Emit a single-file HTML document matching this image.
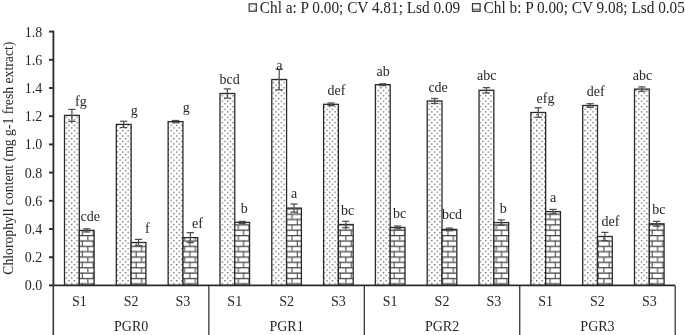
<!DOCTYPE html>
<html><head><meta charset="utf-8"><style>
html,body{margin:0;padding:0;background:#fff;width:685px;height:335px;overflow:hidden}
svg{display:block;will-change:transform}
text{font-family:"Liberation Serif",serif;font-size:14px;fill:#262626}
</style></head><body>
<svg width="685" height="335" viewBox="0 0 685 335">
<defs>
<pattern id="dots" patternUnits="userSpaceOnUse" width="5.375" height="5.36" x="3.9" y="1.37">
<rect x="0" y="0" width="1.3" height="1.3" fill="#606060"/>
<rect x="2.69" y="2.68" width="1.3" height="1.3" fill="#606060"/>
</pattern>
<pattern id="brick" patternUnits="userSpaceOnUse" width="10.75" height="10.72" x="0" y="-0.85">
<rect x="0" y="0" width="10.75" height="10.72" fill="#fff"/>
<rect x="0" y="0" width="10.75" height="1.25" fill="#444"/>
<rect x="0" y="5.36" width="10.75" height="1.25" fill="#444"/>
<rect x="1.2" y="0" width="1.2" height="5.36" fill="#5a5a5a"/>
<rect x="6.57" y="5.36" width="1.2" height="5.36" fill="#5a5a5a"/>
</pattern>
</defs>

<rect x="249.2" y="3.9" width="7.1" height="7.3" fill="#fff" stroke="#333" stroke-width="1.2"/>
<rect x="251.0" y="5.9" width="1.1" height="1.1" fill="#888"/><rect x="254.1" y="9.1" width="1.1" height="1.1" fill="#555"/>
<text transform="translate(259.8,12.6) scale(0.956,1)" style="font-size:16px">Chl a: P 0.00; CV 4.81; Lsd 0.09</text>
<rect x="472.5" y="3.7" width="7.6" height="7.6" fill="#fff" stroke="#333" stroke-width="1.2"/>
<rect x="472.5" y="8.7" width="7.6" height="1.1" fill="#555"/><rect x="474.8" y="9.2" width="1" height="2" fill="#888"/>
<text transform="translate(483.6,12.6) scale(0.956,1)" style="font-size:16px">Chl b: P 0.00; CV 9.08; Lsd 0.05</text>
<text transform="translate(12.5,158.2) rotate(-90) scale(0.951,1)" text-anchor="middle" style="font-size:14.4px">Chlorophyll content (mg g-1 fresh extract)</text>
<text x="42.3" y="290.30" text-anchor="end">0.0</text>
<line x1="49" y1="285.40" x2="53.4" y2="285.40" stroke="#2a2a2a" stroke-width="1.9"/>
<text x="42.3" y="262.10" text-anchor="end">0.2</text>
<line x1="49" y1="257.20" x2="53.4" y2="257.20" stroke="#2a2a2a" stroke-width="1.9"/>
<text x="42.3" y="233.90" text-anchor="end">0.4</text>
<line x1="49" y1="229.00" x2="53.4" y2="229.00" stroke="#2a2a2a" stroke-width="1.9"/>
<text x="42.3" y="205.70" text-anchor="end">0.6</text>
<line x1="49" y1="200.80" x2="53.4" y2="200.80" stroke="#2a2a2a" stroke-width="1.9"/>
<text x="42.3" y="177.50" text-anchor="end">0.8</text>
<line x1="49" y1="172.60" x2="53.4" y2="172.60" stroke="#2a2a2a" stroke-width="1.9"/>
<text x="42.3" y="149.30" text-anchor="end">1.0</text>
<line x1="49" y1="144.40" x2="53.4" y2="144.40" stroke="#2a2a2a" stroke-width="1.9"/>
<text x="42.3" y="121.10" text-anchor="end">1.2</text>
<line x1="49" y1="116.20" x2="53.4" y2="116.20" stroke="#2a2a2a" stroke-width="1.9"/>
<text x="42.3" y="92.90" text-anchor="end">1.4</text>
<line x1="49" y1="88.00" x2="53.4" y2="88.00" stroke="#2a2a2a" stroke-width="1.9"/>
<text x="42.3" y="64.70" text-anchor="end">1.6</text>
<line x1="49" y1="59.80" x2="53.4" y2="59.80" stroke="#2a2a2a" stroke-width="1.9"/>
<text x="42.3" y="36.50" text-anchor="end">1.8</text>
<line x1="49" y1="31.60" x2="53.4" y2="31.60" stroke="#2a2a2a" stroke-width="1.9"/>
<rect x="64.51" y="115.40" width="14.80" height="170.00" fill="url(#dots)" stroke="#2a2a2a" stroke-width="1.3"/>
<rect x="79.31" y="230.40" width="14.80" height="55.00" fill="url(#brick)" stroke="#2a2a2a" stroke-width="1.3"/>
<g stroke="#4e4e4e" stroke-width="1.25"><line x1="71.91" y1="109.40" x2="71.91" y2="121.40"/><line x1="68.31" y1="109.40" x2="75.51" y2="109.40"/><line x1="68.31" y1="121.40" x2="75.51" y2="121.40"/></g>
<g stroke="#4e4e4e" stroke-width="1.25"><line x1="86.71" y1="228.80" x2="86.71" y2="232.00"/><line x1="83.11" y1="228.80" x2="90.31" y2="228.80"/><line x1="83.11" y1="232.00" x2="90.31" y2="232.00"/></g>
<rect x="116.33" y="124.40" width="14.80" height="161.00" fill="url(#dots)" stroke="#2a2a2a" stroke-width="1.3"/>
<rect x="131.12" y="242.50" width="14.80" height="42.90" fill="url(#brick)" stroke="#2a2a2a" stroke-width="1.3"/>
<g stroke="#4e4e4e" stroke-width="1.25"><line x1="123.72" y1="121.30" x2="123.72" y2="127.50"/><line x1="120.12" y1="121.30" x2="127.32" y2="121.30"/><line x1="120.12" y1="127.50" x2="127.32" y2="127.50"/></g>
<g stroke="#4e4e4e" stroke-width="1.25"><line x1="138.53" y1="239.40" x2="138.53" y2="245.60"/><line x1="134.93" y1="239.40" x2="142.12" y2="239.40"/><line x1="134.93" y1="245.60" x2="142.12" y2="245.60"/></g>
<rect x="168.14" y="121.60" width="14.80" height="163.80" fill="url(#dots)" stroke="#2a2a2a" stroke-width="1.3"/>
<rect x="182.94" y="237.60" width="14.80" height="47.80" fill="url(#brick)" stroke="#2a2a2a" stroke-width="1.3"/>
<g stroke="#4e4e4e" stroke-width="1.25"><line x1="175.54" y1="120.50" x2="175.54" y2="122.70"/><line x1="171.94" y1="120.50" x2="179.14" y2="120.50"/><line x1="171.94" y1="122.70" x2="179.14" y2="122.70"/></g>
<g stroke="#4e4e4e" stroke-width="1.25"><line x1="190.34" y1="232.60" x2="190.34" y2="242.60"/><line x1="186.74" y1="232.60" x2="193.94" y2="232.60"/><line x1="186.74" y1="242.60" x2="193.94" y2="242.60"/></g>
<rect x="219.96" y="93.50" width="14.80" height="191.90" fill="url(#dots)" stroke="#2a2a2a" stroke-width="1.3"/>
<rect x="234.76" y="222.40" width="14.80" height="63.00" fill="url(#brick)" stroke="#2a2a2a" stroke-width="1.3"/>
<g stroke="#4e4e4e" stroke-width="1.25"><line x1="227.36" y1="88.90" x2="227.36" y2="98.10"/><line x1="223.76" y1="88.90" x2="230.96" y2="88.90"/><line x1="223.76" y1="98.10" x2="230.96" y2="98.10"/></g>
<g stroke="#4e4e4e" stroke-width="1.25"><line x1="242.16" y1="221.40" x2="242.16" y2="223.40"/><line x1="238.56" y1="221.40" x2="245.76" y2="221.40"/><line x1="238.56" y1="223.40" x2="245.76" y2="223.40"/></g>
<rect x="271.77" y="79.50" width="14.80" height="205.90" fill="url(#dots)" stroke="#2a2a2a" stroke-width="1.3"/>
<rect x="286.57" y="208.10" width="14.80" height="77.30" fill="url(#brick)" stroke="#2a2a2a" stroke-width="1.3"/>
<g stroke="#4e4e4e" stroke-width="1.25"><line x1="279.18" y1="69.20" x2="279.18" y2="89.80"/><line x1="275.57" y1="69.20" x2="282.78" y2="69.20"/><line x1="275.57" y1="89.80" x2="282.78" y2="89.80"/></g>
<g stroke="#4e4e4e" stroke-width="1.25"><line x1="293.97" y1="204.00" x2="293.97" y2="212.20"/><line x1="290.37" y1="204.00" x2="297.57" y2="204.00"/><line x1="290.37" y1="212.20" x2="297.57" y2="212.20"/></g>
<rect x="323.59" y="104.30" width="14.80" height="181.10" fill="url(#dots)" stroke="#2a2a2a" stroke-width="1.3"/>
<rect x="338.39" y="224.50" width="14.80" height="60.90" fill="url(#brick)" stroke="#2a2a2a" stroke-width="1.3"/>
<g stroke="#4e4e4e" stroke-width="1.25"><line x1="330.99" y1="103.00" x2="330.99" y2="105.60"/><line x1="327.39" y1="103.00" x2="334.59" y2="103.00"/><line x1="327.39" y1="105.60" x2="334.59" y2="105.60"/></g>
<g stroke="#4e4e4e" stroke-width="1.25"><line x1="345.79" y1="221.30" x2="345.79" y2="227.70"/><line x1="342.19" y1="221.30" x2="349.39" y2="221.30"/><line x1="342.19" y1="227.70" x2="349.39" y2="227.70"/></g>
<rect x="375.41" y="84.70" width="14.80" height="200.70" fill="url(#dots)" stroke="#2a2a2a" stroke-width="1.3"/>
<rect x="390.21" y="227.50" width="14.80" height="57.90" fill="url(#brick)" stroke="#2a2a2a" stroke-width="1.3"/>
<g stroke="#4e4e4e" stroke-width="1.25"><line x1="382.81" y1="83.80" x2="382.81" y2="85.60"/><line x1="379.21" y1="83.80" x2="386.41" y2="83.80"/><line x1="379.21" y1="85.60" x2="386.41" y2="85.60"/></g>
<g stroke="#4e4e4e" stroke-width="1.25"><line x1="397.61" y1="226.00" x2="397.61" y2="229.00"/><line x1="394.01" y1="226.00" x2="401.21" y2="226.00"/><line x1="394.01" y1="229.00" x2="401.21" y2="229.00"/></g>
<rect x="427.22" y="101.00" width="14.80" height="184.40" fill="url(#dots)" stroke="#2a2a2a" stroke-width="1.3"/>
<rect x="442.02" y="229.40" width="14.80" height="56.00" fill="url(#brick)" stroke="#2a2a2a" stroke-width="1.3"/>
<g stroke="#4e4e4e" stroke-width="1.25"><line x1="434.62" y1="98.50" x2="434.62" y2="103.50"/><line x1="431.02" y1="98.50" x2="438.23" y2="98.50"/><line x1="431.02" y1="103.50" x2="438.23" y2="103.50"/></g>
<g stroke="#4e4e4e" stroke-width="1.25"><line x1="449.42" y1="228.10" x2="449.42" y2="230.70"/><line x1="445.82" y1="228.10" x2="453.02" y2="228.10"/><line x1="445.82" y1="230.70" x2="453.02" y2="230.70"/></g>
<rect x="479.04" y="90.30" width="14.80" height="195.10" fill="url(#dots)" stroke="#2a2a2a" stroke-width="1.3"/>
<rect x="493.84" y="222.60" width="14.80" height="62.80" fill="url(#brick)" stroke="#2a2a2a" stroke-width="1.3"/>
<g stroke="#4e4e4e" stroke-width="1.25"><line x1="486.44" y1="87.60" x2="486.44" y2="93.00"/><line x1="482.84" y1="87.60" x2="490.04" y2="87.60"/><line x1="482.84" y1="93.00" x2="490.04" y2="93.00"/></g>
<g stroke="#4e4e4e" stroke-width="1.25"><line x1="501.24" y1="219.90" x2="501.24" y2="225.30"/><line x1="497.64" y1="219.90" x2="504.84" y2="219.90"/><line x1="497.64" y1="225.30" x2="504.84" y2="225.30"/></g>
<rect x="530.86" y="112.50" width="14.80" height="172.90" fill="url(#dots)" stroke="#2a2a2a" stroke-width="1.3"/>
<rect x="545.66" y="211.60" width="14.80" height="73.80" fill="url(#brick)" stroke="#2a2a2a" stroke-width="1.3"/>
<g stroke="#4e4e4e" stroke-width="1.25"><line x1="538.26" y1="107.70" x2="538.26" y2="117.30"/><line x1="534.66" y1="107.70" x2="541.86" y2="107.70"/><line x1="534.66" y1="117.30" x2="541.86" y2="117.30"/></g>
<g stroke="#4e4e4e" stroke-width="1.25"><line x1="553.06" y1="209.40" x2="553.06" y2="213.80"/><line x1="549.46" y1="209.40" x2="556.66" y2="209.40"/><line x1="549.46" y1="213.80" x2="556.66" y2="213.80"/></g>
<rect x="582.68" y="105.50" width="14.80" height="179.90" fill="url(#dots)" stroke="#2a2a2a" stroke-width="1.3"/>
<rect x="597.48" y="236.50" width="14.80" height="48.90" fill="url(#brick)" stroke="#2a2a2a" stroke-width="1.3"/>
<g stroke="#4e4e4e" stroke-width="1.25"><line x1="590.08" y1="103.70" x2="590.08" y2="107.30"/><line x1="586.48" y1="103.70" x2="593.68" y2="103.70"/><line x1="586.48" y1="107.30" x2="593.68" y2="107.30"/></g>
<g stroke="#4e4e4e" stroke-width="1.25"><line x1="604.88" y1="232.40" x2="604.88" y2="240.60"/><line x1="601.27" y1="232.40" x2="608.48" y2="232.40"/><line x1="601.27" y1="240.60" x2="608.48" y2="240.60"/></g>
<rect x="634.49" y="89.10" width="14.80" height="196.30" fill="url(#dots)" stroke="#2a2a2a" stroke-width="1.3"/>
<rect x="649.29" y="223.80" width="14.80" height="61.60" fill="url(#brick)" stroke="#2a2a2a" stroke-width="1.3"/>
<g stroke="#4e4e4e" stroke-width="1.25"><line x1="641.89" y1="86.90" x2="641.89" y2="91.30"/><line x1="638.29" y1="86.90" x2="645.49" y2="86.90"/><line x1="638.29" y1="91.30" x2="645.49" y2="91.30"/></g>
<g stroke="#4e4e4e" stroke-width="1.25"><line x1="656.69" y1="221.40" x2="656.69" y2="226.20"/><line x1="653.09" y1="221.40" x2="660.29" y2="221.40"/><line x1="653.09" y1="226.20" x2="660.29" y2="226.20"/></g>
<text x="75.10" y="105.60">fg</text>
<text x="130.80" y="114.50">g</text>
<text x="182.70" y="111.50">g</text>
<text x="219.60" y="83.50">bcd</text>
<text x="276.30" y="69.90">a</text>
<text x="327.50" y="94.70">def</text>
<text x="376.50" y="75.50">ab</text>
<text x="428.40" y="91.50">cde</text>
<text x="477.00" y="80.20">abc</text>
<text x="536.60" y="102.80">efg</text>
<text x="586.80" y="95.70">def</text>
<text x="632.80" y="79.70">abc</text>
<text x="80.60" y="221.00">cde</text>
<text x="145.00" y="232.80">f</text>
<text x="192.10" y="227.80">ef</text>
<text x="240.70" y="212.80">b</text>
<text x="291.00" y="198.00">a</text>
<text x="341.00" y="214.50">bc</text>
<text x="393.00" y="217.70">bc</text>
<text x="441.90" y="218.90">bcd</text>
<text x="499.70" y="212.90">b</text>
<text x="550.00" y="201.70">a</text>
<text x="601.50" y="226.20">def</text>
<text x="652.30" y="213.70">bc</text>
<line x1="53.40" y1="30.70" x2="53.40" y2="285.40" stroke="#2a2a2a" stroke-width="1.8"/>
<line x1="53.30" y1="285.40" x2="53.30" y2="335" stroke="#3c3c3c" stroke-width="1.6"/>
<line x1="53.40" y1="285.40" x2="675.20" y2="285.40" stroke="#2a2a2a" stroke-width="1.8"/>
<line x1="208.85" y1="285.40" x2="208.85" y2="335" stroke="#2a2a2a" stroke-width="1.2"/>
<line x1="364.30" y1="285.40" x2="364.30" y2="335" stroke="#2a2a2a" stroke-width="1.2"/>
<line x1="519.75" y1="285.40" x2="519.75" y2="335" stroke="#2a2a2a" stroke-width="1.2"/>
<line x1="675.20" y1="285.40" x2="675.20" y2="335" stroke="#2a2a2a" stroke-width="1.2"/>
<text x="79.31" y="306.3" text-anchor="middle">S1</text>
<text x="131.12" y="306.3" text-anchor="middle">S2</text>
<text x="182.94" y="306.3" text-anchor="middle">S3</text>
<text x="234.76" y="306.3" text-anchor="middle">S1</text>
<text x="286.57" y="306.3" text-anchor="middle">S2</text>
<text x="338.39" y="306.3" text-anchor="middle">S3</text>
<text x="390.21" y="306.3" text-anchor="middle">S1</text>
<text x="442.02" y="306.3" text-anchor="middle">S2</text>
<text x="493.84" y="306.3" text-anchor="middle">S3</text>
<text x="545.66" y="306.3" text-anchor="middle">S1</text>
<text x="597.48" y="306.3" text-anchor="middle">S2</text>
<text x="649.29" y="306.3" text-anchor="middle">S3</text>
<text x="131.12" y="330.9" text-anchor="middle">PGR0</text>
<text x="286.57" y="330.9" text-anchor="middle">PGR1</text>
<text x="442.02" y="330.9" text-anchor="middle">PGR2</text>
<text x="597.48" y="330.9" text-anchor="middle">PGR3</text>
</svg></body></html>
